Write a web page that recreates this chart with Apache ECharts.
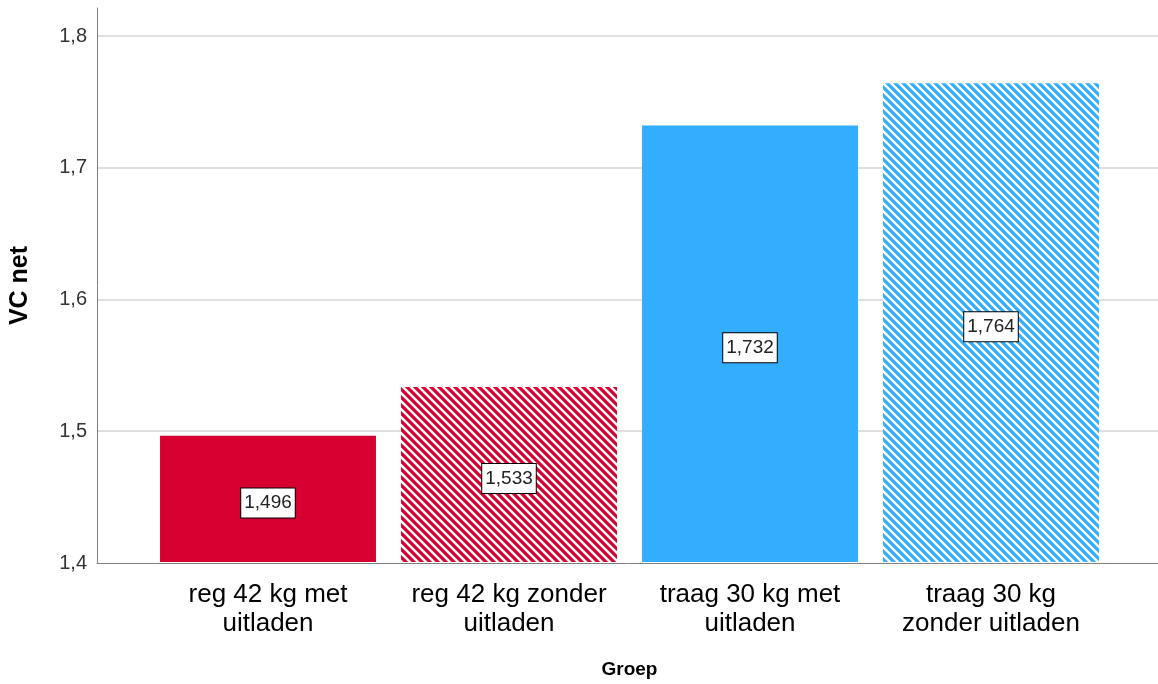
<!DOCTYPE html>
<html>
<head>
<meta charset="utf-8">
<script src="https://cdn.jsdelivr.net/npm/echarts@6/dist/echarts.min.js"></script>
<style>
  html, body { margin: 0; padding: 0; background: #fff; }
  #chart { width: 1158px; height: 684px; }
</style>
</head>
<body>
<div id="chart"></div>
<script>
// data
const groepen = ['reg 42 kg met\nuitladen', 'reg 42 kg zonder\nuitladen', 'traag 30 kg met\nuitladen', 'traag 30 kg\nzonder uitladen']
const vcNet = [1.496, 1.533, 1.732, 1.764]
const yTicks = [1.4, 1.5, 1.6, 1.7, 1.8]

const font = 'Arial, "Liberation Sans", sans-serif'
const rood = '#d5002f'
const blauw = '#33adff'

// diagonale strepen (\\) als patroon
const makeStripes = (color) => {
  const c = document.createElement('canvas')
  c.width = 8
  c.height = 8
  const ctx = c.getContext('2d')
  ctx.fillStyle = color
  ctx.fillRect(0, 0, 8, 8)
  ctx.strokeStyle = '#ffffff'
  ctx.lineWidth = 2.4
  ctx.beginPath()
  ctx.moveTo(-2, -2); ctx.lineTo(10, 10)
  ctx.moveTo(-6, 2); ctx.lineTo(2, 10)
  ctx.moveTo(6, -2); ctx.lineTo(10, 2)
  ctx.stroke()
  return { image: c, repeat: 'repeat' }
}

const barColors = [rood, makeStripes(rood), blauw, makeStripes(blauw)]

const yMin = yTicks[0]
const yStep = yTicks[1] - yTicks[0]
const yTop = yTicks[yTicks.length - 1]
// de as loopt iets boven 1,8 door
const yAxisMax = yTop + yStep * 28 / 131.75

const fmt = (v) => String(Math.round(v * 1000) / 1000).replace('.', ',')

const myChart = echarts.init(document.getElementById('chart'))
myChart.setOption({
  animation: false,
  grid: [
    { left: 97, right: 0, top: 8, bottom: 121 },
    { left: 147.5, right: 46.5, top: 36, bottom: 121 }
  ],
  xAxis: [
    {
      gridIndex: 0,
      type: 'value',
      min: 0,
      max: 1,
      axisLine: { show: true, lineStyle: { color: '#808080', width: 1 } },
      axisTick: { show: false },
      axisLabel: { show: false },
      splitLine: { show: false }
    },
    {
      gridIndex: 1,
      type: 'category',
      data: groepen,
      name: 'Groep',
      nameLocation: 'middle',
      nameGap: 98,
      nameTextStyle: { fontFamily: font, fontSize: 19, fontWeight: 'bold', color: '#000', verticalAlign: 'top' },
      axisLine: { show: false },
      axisTick: { show: false },
      axisLabel: { interval: 0, hideOverlap: false, fontFamily: font, fontSize: 26, color: '#000', lineHeight: 29, margin: 18 }
    }
  ],
  yAxis: [
    {
      gridIndex: 0,
      type: 'value',
      min: yMin,
      max: yAxisMax,
      interval: yStep,
      name: 'VC net',
      nameLocation: 'middle',
      nameGap: 64,
      nameTextStyle: { fontFamily: font, fontSize: 25, fontWeight: 'bold', color: '#000' },
      axisLine: { show: true, lineStyle: { color: '#808080', width: 1 } },
      axisTick: { show: false },
      axisLabel: {
        fontFamily: font,
        fontSize: 20,
        color: '#333',
        margin: 10,
        showMaxLabel: false,
        formatter: (v) => fmt(v)
      },
      splitLine: { show: true, showMaxLine: false, showMinLine: false, lineStyle: { color: '#d4d4d4', width: 1.5 } }
    },
    {
      gridIndex: 1,
      type: 'value',
      min: yMin,
      max: yTop,
      interval: yStep,
      show: false
    }
  ],
  series: [{
    type: 'bar',
    xAxisIndex: 1,
    yAxisIndex: 1,
    barCategoryGap: '10.4%',
    data: vcNet.map((v, i) => ({ value: v, itemStyle: { color: barColors[i] } })),
    label: {
      show: true,
      position: 'inside',
      offset: [0, 4],
      formatter: (p) => fmt(p.value),
      fontFamily: font,
      fontSize: 19,
      color: '#222',
      backgroundColor: '#fff',
      borderColor: '#000',
      borderWidth: 1,
      padding: [6, 3, 4, 3]
    }
  }]
})
</script>
</body>
</html>
